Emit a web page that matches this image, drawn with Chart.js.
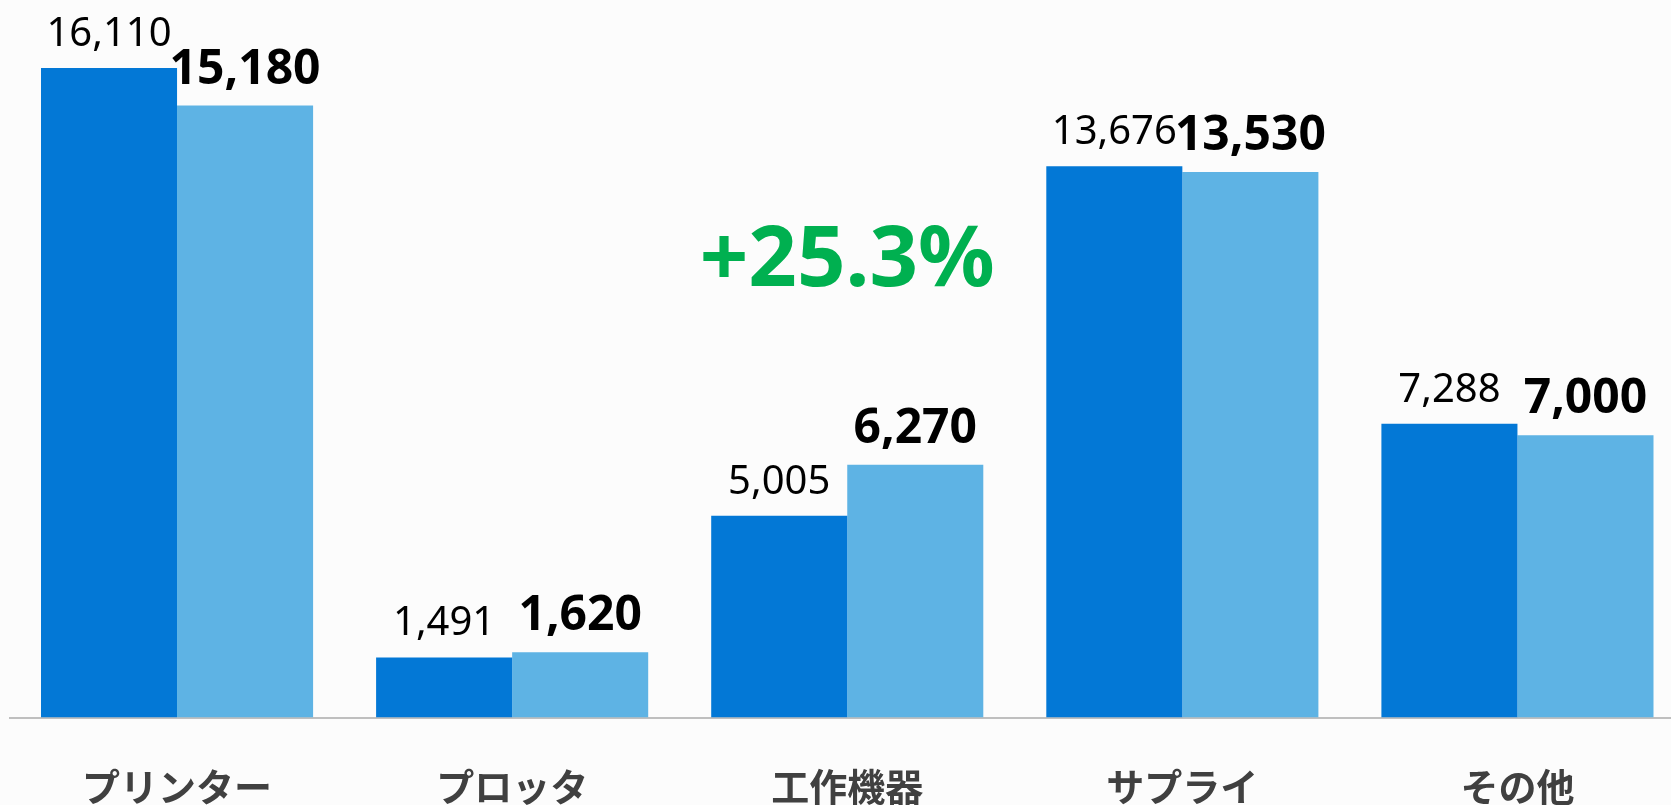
<!DOCTYPE html>
<html lang="ja">
<head>
<meta charset="utf-8">
<title>製品別売上</title>
<script src="https://cdn.jsdelivr.net/npm/chart.js@4.4.1/dist/chart.umd.min.js"></script>
<style>
  html, body { margin: 0; padding: 0; background: #fcfcfc; overflow: hidden; }
  #wrap { width: 1671px; height: 805px; overflow: hidden; }
  canvas { display: block; }
</style>
</head>
<body>
<div id="wrap">
  <canvas id="salesChart" width="1690" height="805"></canvas>
</div>
<script>
const categories = ['プリンター', 'プロッタ', '工作機器', 'サプライ', 'その他'];
const prevYear = [16110, 1491, 5005, 13676, 7288];
const thisYear = [15180, 1620, 6270, 13530, 7000];
const growthText = '+25.3%';

const darkBlue = '#0378d6';
const lightBlue = '#5eb3e4';

// value labels on top of each bar (regular for the first series, bold for the second)
const valueLabels = {
    id: 'valueLabels',
    afterDatasetsDraw(chart) {
        const ctx = chart.ctx;
        ctx.save();
        ctx.textAlign = 'center';
        ctx.textBaseline = 'alphabetic';
        ctx.fillStyle = '#000';
        chart.data.datasets.forEach((ds, i) => {
            const meta = chart.getDatasetMeta(i);
            ctx.font = i === 0 ? '40px "Noto Sans"' : 'bold 48px "Noto Sans"';
            meta.data.forEach((bar, j) => {
                ctx.fillText(ds.data[j].toLocaleString('en-US'), bar.x, bar.y - 22);
            });
        });

        // growth callout above the 工作機器 group
        const x = chart.scales.x.getPixelForValue(2);
        const y = chart.scales.y.getPixelForValue(10700);
        ctx.font = 'bold 85px "Noto Sans"';
        ctx.fillStyle = '#00b050';
        ctx.fillText(growthText, x, y);
        ctx.restore();
    }
};

const ctx = document.getElementById('salesChart').getContext('2d');
const salesChart = new Chart(ctx, {
    type: 'bar',
    data: {
        labels: categories,
        datasets: [
            { label: '前年', data: prevYear, backgroundColor: darkBlue },
            { label: '今年', data: thisYear, backgroundColor: lightBlue }
        ]
    },
    options: {
        responsive: false,
        animation: false,
        devicePixelRatio: 1,
        categoryPercentage: 0.812,
        barPercentage: 1.0,
        layout: { padding: { left: 9.5, right: 5, top: 0, bottom: 0 } },
        plugins: {
            legend: { display: false },
            tooltip: { enabled: false }
        },
        scales: {
            x: {
                grid: { display: false, drawTicks: false },
                border: { display: true, color: '#bfbfbf', width: 2 },
                ticks: {
                    color: '#404040',
                    padding: 46,
                    font: { family: '"Noto Sans CJK JP"', weight: 'bold', size: 38 }
                },
                afterFit: (scale) => { scale.height = 87.5; }
            },
            y: {
                display: false,
                min: 0,
                max: 17800
            }
        }
    },
    plugins: [valueLabels]
});
</script>
</body>
</html>
